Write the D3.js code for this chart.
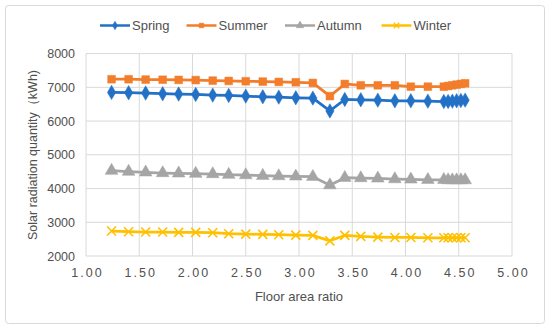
<!DOCTYPE html>
<html><head><meta charset="utf-8">
<script src="https://cdn.jsdelivr.net/npm/d3@7"></script>
<style>body{margin:0;background:#fff}svg{display:block}</style>
</head><body><svg id="c" width="550" height="329"></svg>
<script>
const ratio = [1.24,1.40,1.56,1.72,1.87,2.03,2.19,2.34,2.50,2.66,2.81,2.97,3.13,3.29,3.43,3.58,3.74,3.90,4.05,4.21,4.36,4.40,4.44,4.48,4.52,4.56];
const spring = [6850,6840,6830,6810,6800,6790,6770,6760,6740,6720,6710,6690,6680,6300,6640,6630,6620,6600,6600,6590,6580,6580,6590,6600,6610,6620];
const summer = [7240,7240,7230,7225,7220,7215,7200,7190,7180,7170,7160,7150,7130,6740,7100,7060,7060,7060,7020,7020,7020,7040,7060,7080,7100,7120];
const autumn = [4530,4500,4480,4460,4450,4440,4430,4410,4400,4380,4370,4360,4350,4100,4320,4310,4300,4280,4270,4260,4260,4250,4250,4250,4250,4250];
const winter = [2740,2720,2710,2710,2700,2700,2690,2660,2650,2640,2630,2620,2610,2450,2610,2580,2560,2550,2550,2540,2540,2540,2540,2540,2540,2540];
const xTicks = [1,1.5,2,2.5,3,3.5,4,4.5,5];
const yTicks = [2000,3000,4000,5000,6000,7000,8000];
const seriesNames = ["Spring","Summer","Autumn","Winter"];

const series = [
  {name:seriesNames[0], values:spring, color:"#2271c6", marker:"diamond"},
  {name:seriesNames[1], values:summer, color:"#f27d2b", marker:"square"},
  {name:seriesNames[2], values:autumn, color:"#a5a5a5", marker:"triangle"},
  {name:seriesNames[3], values:winter, color:"#ffc000", marker:"x"}
];

const svg = d3.select("#c");
const font = "'Liberation Sans', Arial, sans-serif";
const txt = "#505050";
svg.append("rect").attr("x",5.5).attr("y",5.5).attr("width",539).attr("height",318)
  .attr("rx",3).attr("fill","#fff").attr("stroke","#d9d9d9");

const x = d3.scaleLinear().domain([1,5]).range([86,512]);
const y = d3.scaleLinear().domain([2000,8000]).range([256,53.6]);

const g = svg.append("g");
g.append("g").selectAll("line").data(yTicks).join("line")
  .attr("x1",x(1)).attr("x2",x(5)).attr("y1",d=>y(d)).attr("y2",d=>y(d))
  .attr("stroke","#d9d9d9").attr("stroke-width",1);
g.append("g").selectAll("line").data(xTicks).join("line")
  .attr("y1",y(2000)).attr("y2",y(8000)).attr("x1",d=>x(d)).attr("x2",d=>x(d))
  .attr("stroke","#d9d9d9").attr("stroke-width",1);

const xAxis = d3.axisBottom(x).tickValues(xTicks).tickFormat(d3.format(".2f")).tickSize(0).tickPadding(12);
const yAxis = d3.axisLeft(y).tickValues(yTicks).tickFormat(d3.format("d")).tickSize(0).tickPadding(11);
const xa = svg.append("g").attr("transform",`translate(0,${y(2000)})`).call(xAxis);
const ya = svg.append("g").attr("transform",`translate(${x(1)},0)`).call(yAxis);
[xa,ya].forEach(a=>{a.select(".domain").remove();
  a.selectAll("text").attr("fill",txt).style("font-family",font).style("font-size","12.5px");});
xa.selectAll("text").style("letter-spacing","2px").attr("dx","1px");

function markerPath(type, k){
  k = k || 1;
  if(type==="diamond") return d3.symbol(d3.symbolDiamond,60*k*k)();
  if(type==="square") return d3.symbol(d3.symbolSquare,60*k*k)();
  if(type==="triangle") return d3.symbol(d3.symbolTriangle,70*k*k)();
  const r = 4.5*k;
  return `M${-r},${-r}L${r},${r}M${-r},${r}L${r},${-r}`;
}

const line = d3.line().x(d=>x(d[0])).y(d=>y(d[1]));
series.forEach(s=>{
  const pts = ratio.map((r,i)=>[r,s.values[i]]);
  svg.append("path").datum(pts).attr("d",line).attr("fill","none")
    .attr("stroke",s.color).attr("stroke-width",2.75).attr("stroke-linejoin","round");
  svg.append("g").selectAll("path").data(pts).join("path")
    .attr("transform",d=>`translate(${x(d[0])},${y(d[1])})`)
    .attr("d",markerPath(s.marker))
    .attr("fill",s.marker==="x"?"none":s.color)
    .attr("stroke",s.color).attr("stroke-width",s.marker==="x"?1.6:0.5);
});

const legX = [100,186.5,285,381.5];
const lg = svg.append("g");
series.forEach((s,i)=>{
  const gg = lg.append("g").attr("transform",`translate(${legX[i]},25.5)`);
  gg.append("line").attr("x1",0).attr("x2",30).attr("stroke",s.color).attr("stroke-width",2.5);
  gg.append("path").attr("transform","translate(15,0)").attr("d",markerPath(s.marker,0.6))
    .attr("fill",s.marker==="x"?"none":s.color).attr("stroke",s.color).attr("stroke-width",s.marker==="x"?1.3:0.5);
  gg.append("text").attr("x",32).attr("y",0).attr("dy","0.35em").text(s.name)
    .attr("fill",txt).style("font-family",font).style("font-size","13px");
});

svg.append("text").attr("x",299).attr("y",296).attr("dy","0.35em").attr("text-anchor","middle")
  .text("Floor area ratio").attr("fill",txt).style("font-family",font).style("font-size","13px");
svg.append("text").attr("transform","translate(33,155) rotate(-90)").attr("dy","0.35em").attr("text-anchor","middle")
  .text("Solar radiation quantity（kWh)").attr("fill",txt).style("font-family",font).style("font-size","12.5px");
</script></body></html>
